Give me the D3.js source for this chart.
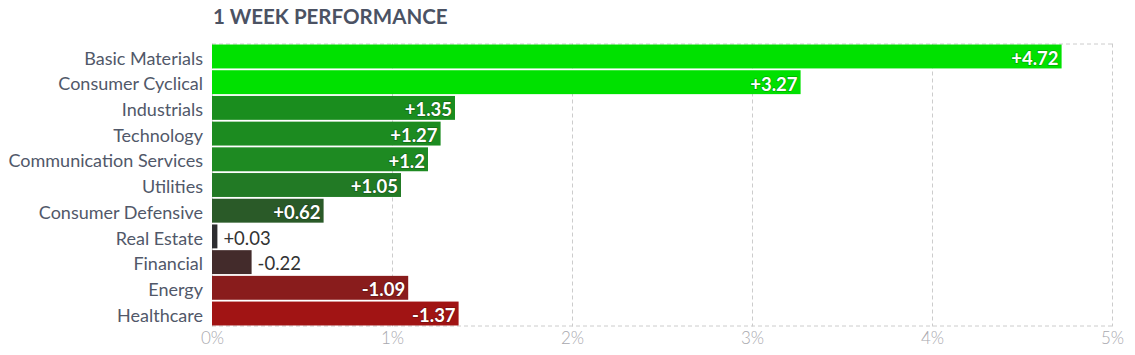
<!DOCTYPE html>
<html>
<head>
<meta charset="utf-8">
<script src="https://cdn.jsdelivr.net/npm/d3@7"></script>
<style>
    body { margin: 0; background: #fff; font-family: Lato, sans-serif; }
    #chart { width: 1135px; height: 355px; }
    .grid line { stroke: #ccc; stroke-dasharray: 4 3; }
</style>
</head>
<body>
<div id="chart"></div>
<script>
let sectors = ["Basic Materials", "Consumer Cyclical", "Industrials", "Technology",
    "Communication Services", "Utilities", "Consumer Defensive", "Real Estate",
    "Financial", "Energy", "Healthcare"]
let perf = [4.72, 3.27, 1.35, 1.27, 1.2, 1.05, 0.62, 0.03, -0.22, -1.09, -1.37]
let barColors = ["#00e100", "#00e100", "#1a8d1e", "#1c8b20", "#1e8a22", "#227a25",
    "#2a5a28", "#2d2d30", "#432b2b", "#891c1c", "#a11414"]
let ticks = [0, 1, 2, 3, 4, 5]

let margin = {top: 43.5, right: 23, bottom: 28.5, left: 212};
let width = 1135 - margin.left - margin.right;
let height = 355 - margin.top - margin.bottom;

let svg = d3.select("#chart").append("svg")
    .attr("width", 1135)
    .attr("height", 355);

svg.append("text")
    .text("1 WEEK PERFORMANCE")
    .attr("x", 213)
    .attr("y", 24)
    .attr("font-size", 20.5)
    .attr("font-weight", "bold")
    .attr("fill", "#4b5263");

let g = svg.append("g")
    .attr("transform", `translate(${margin.left}, ${margin.top})`);

let x = d3.scaleLinear().domain([0, 5]).range([0, width]);
let y = d3.scaleBand().domain(sectors).range([0, height]).paddingInner(0.07).paddingOuter(0.04);

// grid
let grid = g.append("g").attr("class", "grid");
grid.selectAll(".vline")
    .data(ticks.slice(1))
    .enter().append("line")
    .attr("x1", d => x(d) + 0.5).attr("x2", d => x(d) + 0.5)
    .attr("y1", 0).attr("y2", height);
grid.append("line").attr("x1", 0).attr("x2", width).attr("y1", 0.5).attr("y2", 0.5);
grid.append("line").attr("x1", 0).attr("x2", width).attr("y1", height - 0.5).attr("y2", height - 0.5);
grid.append("line").attr("x1", 0.5).attr("x2", 0.5).attr("y1", 0).attr("y2", height);

// x axis
let xAxis = g.append("g")
    .attr("transform", `translate(0, ${height})`)
    .call(d3.axisBottom(x).tickValues(ticks).tickFormat(d => d + "%").tickSize(0).tickPadding(5));
xAxis.select(".domain").remove();
xAxis.selectAll("text").attr("font-size", 17).attr("font-weight", 300)
    .attr("fill", "#a8a8ae").attr("font-family", "Lato, sans-serif");

// y axis labels
let yAxis = g.append("g")
    .call(d3.axisLeft(y).tickSize(0).tickPadding(9));
yAxis.select(".domain").remove();
yAxis.selectAll("text").attr("font-size", 18).attr("fill", "#515869")
    .attr("dy", "0.45em").attr("font-family", "Lato, sans-serif");

let data = sectors.map((s, i) => ({name: s, value: perf[i], color: barColors[i]}));

g.selectAll(".bar")
    .data(data)
    .enter().append("rect")
    .attr("class", "bar")
    .attr("x", x(0))
    .attr("y", d => y(d.name))
    .attr("width", d => x(Math.abs(d.value)) - x(0))
    .attr("height", y.bandwidth())
    .attr("fill", d => d.color);

let fmt = d => (d > 0 ? "+" : "") + d;
let inside = d => (x(Math.abs(d.value)) - x(0)) > 50;

g.selectAll(".val")
    .data(data)
    .enter().append("text")
    .attr("class", "val")
    .text(d => fmt(d.value))
    .attr("x", d => {
        let w = x(Math.abs(d.value)) - x(0);
        return inside(d) ? w - 3 : w + 6;
    })
    .attr("y", d => y(d.name) + y.bandwidth() / 2)
    .attr("dy", "0.45em")
    .attr("text-anchor", d => inside(d) ? "end" : "start")
    .attr("font-size", 18.5)
    .attr("font-weight", d => inside(d) ? "bold" : "normal")
    .attr("fill", d => inside(d) ? "#fff" : "#333")
    .style("paint-order", "stroke")
    .attr("stroke", d => inside(d) ? "rgba(0,0,0,0.25)" : "none")
    .attr("stroke-width", 1.5);
</script>
</body>
</html>
